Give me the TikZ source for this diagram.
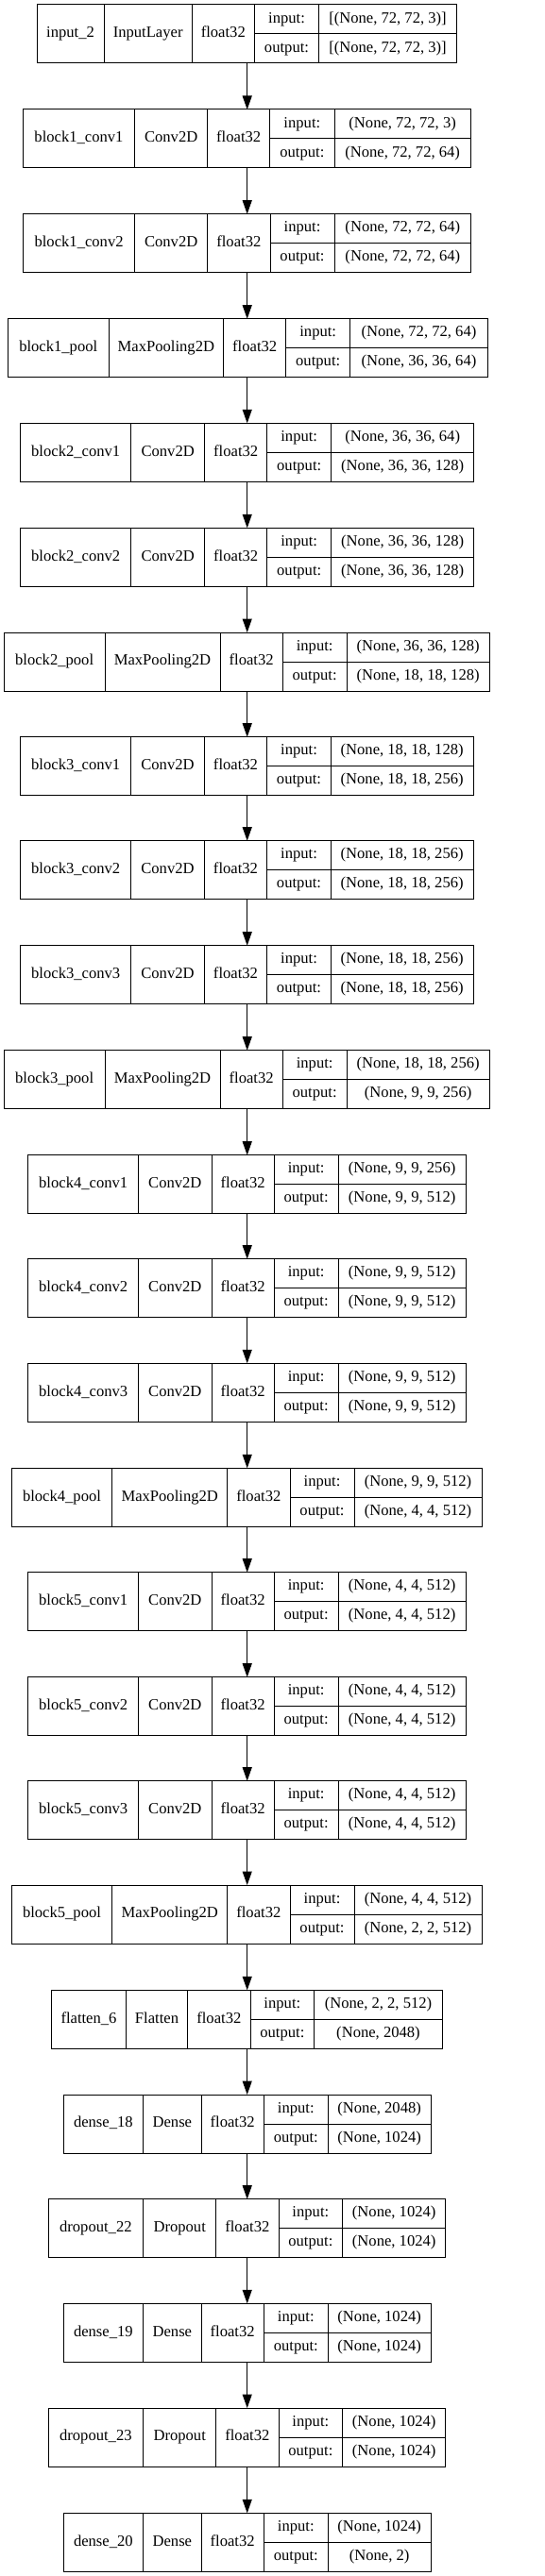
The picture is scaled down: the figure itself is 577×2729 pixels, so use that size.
\documentclass[tikz,border=0pt]{standalone}
\usepackage{fontspec}
\setmainfont{Liberation Serif}
\usetikzlibrary{arrows.meta, positioning}

% frame of one layer row, its cell rules and the cell centres
\newcommand{\layerbox}[8]{%
  \node[layerframe, minimum width={(#8-#3)*1pt}] (#1) at ({(#3+#8)/2},{#2+31}) {};
  \draw[cellrule] ({#4},{#2}) -- ({#4},{#2+62});
  \draw[cellrule] ({#5},{#2}) -- ({#5},{#2+62});
  \draw[cellrule] ({#6},{#2}) -- ({#6},{#2+62});
  \draw[cellrule] ({#7},{#2}) -- ({#7},{#2+62});
  \draw[cellrule] ({#6},{#2+31}) -- ({#8},{#2+31});
  \coordinate (#1-nm) at ({(#3+#4)/2},{#2+31});
  \coordinate (#1-cl) at ({(#4+#5)/2},{#2+31});
  \coordinate (#1-dt) at ({(#5+#6)/2},{#2+31});
  \coordinate (#1-in) at ({(#6+#7)/2},{#2+15.5});
  \coordinate (#1-out) at ({(#6+#7)/2},{#2+46.5});
  \coordinate (#1-ins) at ({(#7+#8)/2},{#2+15.5});
  \coordinate (#1-outs) at ({(#7+#8)/2},{#2+46.5});
}
% texts of one layer row
\newcommand{\layertext}[5]{%
  \node[celltext] (#1-name) at (#1-nm) {#2};
  \node[celltext] (#1-class) at (#1-cl) {#3};
  \node[celltext] (#1-dtype) at (#1-dt) {float32};
  \node[celltext] (#1-inlbl) at (#1-in) {input:};
  \node[celltext] (#1-outlbl) at (#1-out) {output:};
  \node[celltext] (#1-inshape) at (#1-ins) {#4};
  \node[celltext] (#1-outshape) at (#1-outs) {#5};
}

\begin{document}
\begin{tikzpicture}[
                x=1pt, y=-1pt,
                layerframe/.style={draw=black, line width=1pt, inner sep=0pt, outer sep=0pt, minimum height=62pt},
                cellrule/.style={black, line width=1pt},
                celltext/.style={font=\fontsize{16.6}{20}\selectfont, inner sep=0pt, text height=11.3pt, text depth=3.9pt},
                flow/.style={-{Triangle[length=14.5pt, width=10pt]}, line width=1pt}
                ]
                \fill[white] (0,0) rectangle (577,2729);
                \useasboundingbox (0,0) rectangle (577,2729);
                \coordinate (spine) at (261.7,0);

                %% Layers
\layerbox{l0}{5}{39}{110}{203.3}{269.3}{337.7}{483.3}
\layertext{l0}{input\_2}{InputLayer}{[(None, 72, 72, 3)]}{[(None, 72, 72, 3)]}
\layerbox{l1}{116}{24.3}{142.7}{219.7}{285.7}{354}{498.3}
\layertext{l1}{block1\_conv1}{Conv2D}{(None, 72, 72, 3)}{(None, 72, 72, 64)}
\layerbox{l2}{226.7}{24.5}{142.7}{219.7}{286}{354}{498.7}
\layertext{l2}{block1\_conv2}{Conv2D}{(None, 72, 72, 64)}{(None, 72, 72, 64)}
\layerbox{l3}{337.7}{8.5}{115}{236.7}{302.7}{370.7}{516.3}
\layertext{l3}{block1\_pool}{MaxPooling2D}{(None, 72, 72, 64)}{(None, 36, 36, 64)}
\layerbox{l4}{448.3}{21.7}{138.7}{216.7}{282.7}{350.7}{501.7}
\layertext{l4}{block2\_conv1}{Conv2D}{(None, 36, 36, 64)}{(None, 36, 36, 128)}
\layerbox{l5}{559.3}{21.7}{138.7}{216.7}{282.7}{350.7}{501.7}
\layertext{l5}{block2\_conv2}{Conv2D}{(None, 36, 36, 128)}{(None, 36, 36, 128)}
\layerbox{l6}{670}{4.3}{111}{233}{299.3}{367}{518.3}
\layertext{l6}{block2\_pool}{MaxPooling2D}{(None, 36, 36, 128)}{(None, 18, 18, 128)}
\layerbox{l7}{780.7}{21.7}{138.7}{216.3}{282.7}{350.3}{501}
\layertext{l7}{block3\_conv1}{Conv2D}{(None, 18, 18, 128)}{(None, 18, 18, 256)}
\layerbox{l8}{890.7}{21.7}{138.7}{216.3}{282.7}{350.3}{501}
\layertext{l8}{block3\_conv2}{Conv2D}{(None, 18, 18, 256)}{(None, 18, 18, 256)}
\layerbox{l9}{1001.7}{21.7}{138.7}{216.3}{282.7}{350.3}{501}
\layertext{l9}{block3\_conv3}{Conv2D}{(None, 18, 18, 256)}{(None, 18, 18, 256)}
\layerbox{l10}{1112.7}{4.3}{111}{233}{299.3}{367}{518.3}
\layertext{l10}{block3\_pool}{MaxPooling2D}{(None, 18, 18, 256)}{(None, 9, 9, 256)}
\layerbox{l11}{1223.7}{29.7}{146.7}{224}{290.3}{358}{493.3}
\layertext{l11}{block4\_conv1}{Conv2D}{(None, 9, 9, 256)}{(None, 9, 9, 512)}
\layerbox{l12}{1333.7}{29.7}{146.7}{224}{290.3}{358}{493.3}
\layertext{l12}{block4\_conv2}{Conv2D}{(None, 9, 9, 512)}{(None, 9, 9, 512)}
\layerbox{l13}{1444.3}{29.7}{146.7}{224}{290.3}{358}{493.3}
\layertext{l13}{block4\_conv3}{Conv2D}{(None, 9, 9, 512)}{(None, 9, 9, 512)}
\layerbox{l14}{1555.3}{12.3}{118.7}{240.7}{307}{375}{510}
\layertext{l14}{block4\_pool}{MaxPooling2D}{(None, 9, 9, 512)}{(None, 4, 4, 512)}
\layerbox{l15}{1665.7}{29.7}{146.7}{224}{290.3}{358}{493.3}
\layertext{l15}{block5\_conv1}{Conv2D}{(None, 4, 4, 512)}{(None, 4, 4, 512)}
\layerbox{l16}{1776.7}{29.7}{146.7}{224}{290.3}{358}{493.3}
\layertext{l16}{block5\_conv2}{Conv2D}{(None, 4, 4, 512)}{(None, 4, 4, 512)}
\layerbox{l17}{1886.7}{29.7}{146.7}{224}{290.3}{358}{493.3}
\layertext{l17}{block5\_conv3}{Conv2D}{(None, 4, 4, 512)}{(None, 4, 4, 512)}
\layerbox{l18}{1997}{12.3}{118.7}{240.7}{307}{375}{510}
\layertext{l18}{block5\_pool}{MaxPooling2D}{(None, 4, 4, 512)}{(None, 2, 2, 512)}
\layerbox{l19}{2108.3}{54.7}{133.3}{198.7}{265}{332.7}{468.3}
\layertext{l19}{flatten\_6}{Flatten}{(None, 2, 2, 512)}{(None, 2048)}
\layerbox{l20}{2219}{67}{151.7}{213}{279.3}{347.3}{456}
\layertext{l20}{dense\_18}{Dense}{(None, 2048)}{(None, 1024)}
\layerbox{l21}{2329.7}{51}{151.7}{228.7}{295}{362.7}{471.7}
\layertext{l21}{dropout\_22}{Dropout}{(None, 1024)}{(None, 1024)}
\layerbox{l22}{2440.3}{67}{151.7}{213}{279.3}{347.3}{456}
\layertext{l22}{dense\_19}{Dense}{(None, 1024)}{(None, 1024)}
\layerbox{l23}{2551}{51}{151.7}{228.7}{295}{362.7}{471.7}
\layertext{l23}{dropout\_23}{Dropout}{(None, 1024)}{(None, 1024)}
\layerbox{l24}{2662.3}{67}{151.7}{213}{279.3}{347.3}{456}
\layertext{l24}{dense\_20}{Dense}{(None, 1024)}{(None, 2)}

                %% Arrows
\draw[flow] (l0.south -| spine) -- (l1.north -| spine);
\draw[flow] (l1.south -| spine) -- (l2.north -| spine);
\draw[flow] (l2.south -| spine) -- (l3.north -| spine);
\draw[flow] (l3.south -| spine) -- (l4.north -| spine);
\draw[flow] (l4.south -| spine) -- (l5.north -| spine);
\draw[flow] (l5.south -| spine) -- (l6.north -| spine);
\draw[flow] (l6.south -| spine) -- (l7.north -| spine);
\draw[flow] (l7.south -| spine) -- (l8.north -| spine);
\draw[flow] (l8.south -| spine) -- (l9.north -| spine);
\draw[flow] (l9.south -| spine) -- (l10.north -| spine);
\draw[flow] (l10.south -| spine) -- (l11.north -| spine);
\draw[flow] (l11.south -| spine) -- (l12.north -| spine);
\draw[flow] (l12.south -| spine) -- (l13.north -| spine);
\draw[flow] (l13.south -| spine) -- (l14.north -| spine);
\draw[flow] (l14.south -| spine) -- (l15.north -| spine);
\draw[flow] (l15.south -| spine) -- (l16.north -| spine);
\draw[flow] (l16.south -| spine) -- (l17.north -| spine);
\draw[flow] (l17.south -| spine) -- (l18.north -| spine);
\draw[flow] (l18.south -| spine) -- (l19.north -| spine);
\draw[flow] (l19.south -| spine) -- (l20.north -| spine);
\draw[flow] (l20.south -| spine) -- (l21.north -| spine);
\draw[flow] (l21.south -| spine) -- (l22.north -| spine);
\draw[flow] (l22.south -| spine) -- (l23.north -| spine);
\draw[flow] (l23.south -| spine) -- (l24.north -| spine);
                    \end{tikzpicture}
\end{document}
